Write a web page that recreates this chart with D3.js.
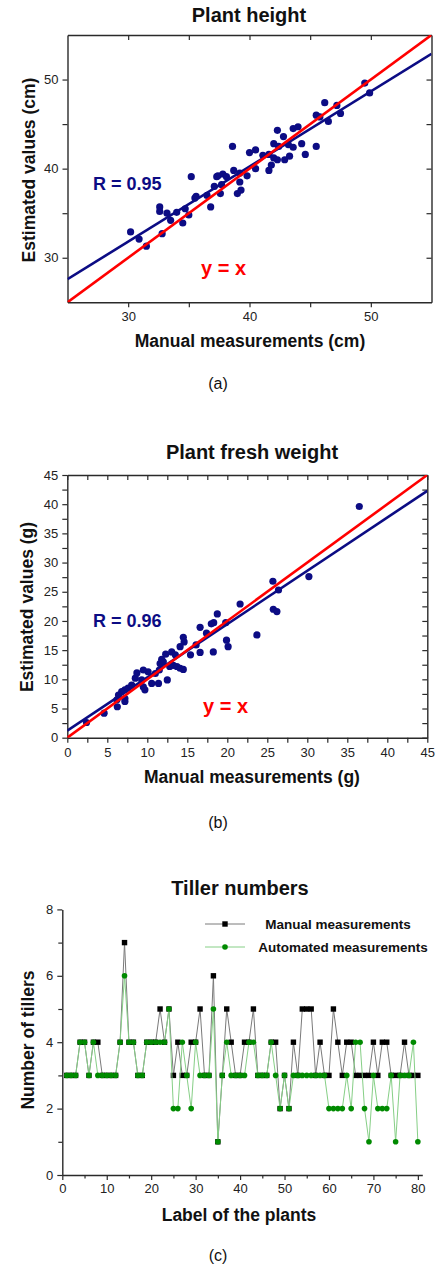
<!DOCTYPE html>
<html><head><meta charset="utf-8">
<script src="https://cdn.jsdelivr.net/npm/d3@7"></script>
<style>
html,body{margin:0;padding:0;background:#fff;}
svg{display:block;}
text{font-family:Arial,"Liberation Sans",sans-serif;}
</style></head>
<body>
<svg id="c" width="437" height="1276"></svg>
<script>
// ---------------- DATA ----------------
// (a) Plant height (cm)
const heightManual = [49.5,49.9,46.2,47.2,47.5,45.5,45.8,46.5,42.3,43.6,44.0,42.8,42.0,42.4,43.2,43.6,44.3,45.5,40.0,40.5,41.1,41.6,42.0,42.3,42.9,43.3,44.6,39.2,39.8,40.5,41.6,41.8,38.6,35.2,37.4,37.8,38.7,39.2,30.2,30.9,31.5,32.6,32.6,33.2,33.5,34.0,34.5,34.7,35.0,35.5,35.6,36.5,36.8,37.1,37.6,37.7,39.0,32.8,39.3,37.3,38.1];
const heightEstimated = [49.6,48.5,47.4,47.1,46.2,46.0,45.8,45.3,44.3,44.5,44.7,43.6,42.8,42.5,42.7,42.4,42.8,42.5,41.8,42.1,41.5,41.6,41.2,41.0,41.0,41.4,41.6,39.5,39.2,40.0,39.8,40.4,42.5,39.1,39.2,39.4,39.8,38.5,32.9,32.1,31.3,35.7,35.2,35.0,34.2,35.1,33.9,35.5,34.8,36.7,36.9,37.0,35.7,38.0,37.2,38.2,37.2,32.7,37.6,39.1,39.1];
const heightFit = [6.52, 0.843];           // intercept, slope
const heightTicks = [30,35,40,45,50];
const heightLabels = [30,40,50];

// (b) Plant fresh weight (g)
const weightManual = [36.5,25.7,26.4,30.2,21.6,25.75,26.2,23.7,18.75,18.3,19.8,16.6,18.0,17.4,14.5,14.6,14.1,16.1,16.6,15.4,18.25,19.9,20.1,13.05,12.3,13.5,12.0,11.6,11.8,13.25,13.7,14.1,14.5,12.8,11.5,11.0,10.1,9.5,10.55,12.5,11.4,9.3,8.5,9.7,9.5,8.05,7.6,7.2,6.8,6.4,7.2,7.2,6.2,6.25,4.6,2.4,8.7];
const weightEstimated = [39.6,26.8,25.3,27.6,22.9,22.0,21.6,17.6,21.2,19.7,19.7,18.9,19.5,17.9,17.2,16.4,15.6,15.9,14.6,14.2,14.7,16.7,15.6,14.7,14.3,14.2,13.0,12.7,13.4,12.4,12.2,11.9,11.7,12.2,11.6,11.0,11.3,11.6,9.3,9.9,9.3,9.9,10.2,8.2,8.7,9.0,8.5,8.2,7.9,7.3,6.7,6.2,6.5,5.3,4.2,2.6,11.1];
const weightFit = [1.2, 0.913];
const weightTicks = d3.range(0, 45.01, 2.5);
const weightLabels = [0,5,10,15,20,25,30,35,40,45];

// (c) Tiller numbers, plants 1..80
const plantLabels = d3.range(1, 81);
const tillerManual = [3,3,3,4,4,3,4,4,3,3, 3,3,4,7,4,4,3,3,4,4, 4,5,4,5,3,4,3,3,4,4, 5,3,3,6,1,3,5,4,3,3, 4,4,5,3,3,3,4,4,2,3, 2,4,3,5,5,5,3,4,3,3, 5,4,3,4,4,3,3,3,3,4, 3,4,4,3,3,3,4,3,3,3];
const tillerAuto   = [3,3,3,4,4,3,4,3,3,3, 3,3,4,6,4,4,3,3,4,4, 4,4,4,5,2,2,4,3,2,4, 3,3,3,5,1,3,4,3,3,3, 3,4,4,3,3,3,4,3,2,3, 2,3,3,3,3,3,3,3,3,2, 2,2,2,3,2,4,4,2,1,3, 2,2,2,3,1,3,3,3,4,1];
const tillerXTicks = [0,10,20,30,40,50,60,70,80];
const tillerYTicks = [0,2,4,6,8];

// ---------------- DRAW ----------------
const svg = d3.select("#c");
const navy = "#0c0c84", red = "#ff0000", axisCol = "#2a2a2a";
const TITLE = 20, ALAB = 17.5, TICK = 13;

function scatterPanel(o){
  const g = svg.append("g");
  const x = d3.scaleLinear().domain(o.xd).range(o.xr);
  const y = d3.scaleLinear().domain(o.yd).range(o.yr);
  const clipId = o.id + "clip";
  g.append("clipPath").attr("id", clipId).append("rect")
    .attr("x", o.xr[0]).attr("y", o.yr[1]).attr("width", o.xr[1]-o.xr[0]).attr("height", o.yr[0]-o.yr[1]);
  const fmt = (lab) => d => lab.includes(d) ? d : "";
  const bx = g.append("g").attr("transform", `translate(0,${o.yr[0]})`)
    .call(d3.axisBottom(x).tickValues(o.ticks).tickFormat(fmt(o.labels)).tickSize(5).tickSizeOuter(0));
  const ly = g.append("g").attr("transform", `translate(${o.xr[0]},0)`)
    .call(d3.axisLeft(y).tickValues(o.ticks).tickFormat(fmt(o.labels)).tickSize(5).tickSizeOuter(0));
  const tx = g.append("g").attr("transform", `translate(0,${o.yr[1]})`)
    .call(d3.axisTop(x).tickValues(o.ticks).tickFormat("").tickSize(-5).tickSizeOuter(0));
  const ry = g.append("g").attr("transform", `translate(${o.xr[1]},0)`)
    .call(d3.axisRight(y).tickValues(o.ticks).tickFormat("").tickSize(-5).tickSizeOuter(0));
  [bx,ly,tx,ry].forEach(a=>{
    a.select(".domain").attr("stroke", axisCol).attr("stroke-width", 1.4);
    a.selectAll(".tick line").attr("stroke", axisCol).attr("stroke-width", 1.2);
    a.selectAll(".tick text").attr("font-size", TICK).attr("fill", "#222").attr("font-family","Arial, 'Liberation Sans', sans-serif");
  });
  bx.selectAll(".tick text").attr("dy", null).attr("y", 19);
  ly.selectAll(".tick text").attr("x", -9);

  const pts = o.mx.map((v,i)=>[v, o.my[i]]);
  const pl = g.append("g").attr("clip-path", `url(#${clipId})`);
  pl.selectAll("circle").data(pts).join("circle")
    .attr("cx", d=>x(d[0])).attr("cy", d=>y(d[1])).attr("r", 3.6).attr("fill", navy);
  const xs = o.xd;
  const fitLine = d3.line().x(d=>x(d[0])).y(d=>y(d[1]));
  pl.append("path").attr("d", fitLine(xs.map(v=>[v, o.fit[0]+o.fit[1]*v])))
    .attr("stroke", navy).attr("stroke-width", 2.6).attr("fill","none");
  pl.append("path").attr("d", fitLine(xs.map(v=>[v, v])))
    .attr("stroke", red).attr("stroke-width", 2.6).attr("fill","none");

  svg.append("text").attr("x", o.titleX).attr("y", o.titleY).attr("text-anchor","middle")
    .attr("font-weight","bold").attr("font-size",TITLE).attr("fill","#111").text(o.title);
  svg.append("text").attr("x", o.xlabX).attr("y", o.xlabY).attr("text-anchor","middle")
    .attr("font-weight","bold").attr("font-size",ALAB).attr("fill","#111").text(o.xlab);
  svg.append("text").attr("transform", `translate(${o.ylabX},${o.ylabY}) rotate(-90)`).attr("text-anchor","middle")
    .attr("font-weight","bold").attr("font-size",ALAB).attr("fill","#111").text(o.ylab);
  svg.append("text").attr("x", o.rX).attr("y", o.rY).attr("font-weight","bold").attr("font-size",18)
    .attr("fill", navy).text(o.rText);
  svg.append("text").attr("x", o.eqX).attr("y", o.eqY).attr("font-weight","bold").attr("font-size",20)
    .attr("fill", red).text("y = x");
  svg.append("text").attr("x", 218).attr("y", o.capY).attr("text-anchor","middle")
    .attr("font-family","'DejaVu Serif','Liberation Serif',serif").attr("font-size",16).attr("fill","#111").text(o.cap);
}

scatterPanel({id:"a", xd:[25,55], yd:[25,55], xr:[67.5,431.5], yr:[302.3,35],
  ticks:heightTicks, labels:heightLabels, mx:heightManual, my:heightEstimated, fit:heightFit,
  title:"Plant height", titleX:249, titleY:22,
  xlab:"Manual measurements (cm)", xlabX:250, xlabY:347,
  ylab:"Estimated values (cm)", ylabX:35, ylabY:170,
  rText:"R = 0.95", rX:93, rY:190, eqX:201, eqY:275, cap:"(a)", capY:389});

scatterPanel({id:"b", xd:[0,45], yd:[0,45], xr:[67.3,427.3], yr:[737.7,475],
  ticks:weightTicks, labels:weightLabels, mx:weightManual, my:weightEstimated, fit:weightFit,
  title:"Plant fresh weight", titleX:252, titleY:459,
  xlab:"Manual measurements (g)", xlabX:252, xlabY:783,
  ylab:"Estimated values (g)", ylabX:33, ylabY:607,
  rText:"R = 0.96", rX:93, rY:627, eqX:203, eqY:713, cap:"(b)", capY:828});

// ---- (c) Tiller numbers ----
(function(){
  const g = svg.append("g");
  const x = d3.scaleLinear().domain([0,81]).range([62.3,422.3]);
  const y = d3.scaleLinear().domain([0,8]).range([1175,909.4]);
  const bx = g.append("g").attr("transform","translate(0,1175)")
    .call(d3.axisBottom(x).tickValues(d3.range(0,81,5)).tickFormat(d=>tillerXTicks.includes(d)?d:"").tickSizeOuter(0));
  bx.selectAll(".tick line").attr("y2", d=> tillerXTicks.includes(d) ? 5 : 3.5);
  const ly = g.append("g").attr("transform","translate(62.3,0)")
    .call(d3.axisLeft(y).tickValues(d3.range(0,9,1)).tickFormat(d=>tillerYTicks.includes(d)?d:"").tickSizeOuter(0));
  ly.selectAll(".tick line").attr("x2", d=> tillerYTicks.includes(d) ? -5 : -4);
  [bx,ly].forEach(a=>{
    a.select(".domain").attr("stroke", axisCol).attr("stroke-width", 1.4);
    a.selectAll(".tick line").attr("stroke", axisCol).attr("stroke-width", 1.2);
    a.selectAll(".tick text").attr("font-size", TICK).attr("fill","#222").attr("font-family","Arial, 'Liberation Sans', sans-serif");
  });
  bx.selectAll(".tick text").attr("dy", null).attr("y", 18);
  ly.selectAll(".tick text").attr("x", -9);

  const line = d3.line().x((d,i)=>x(plantLabels[i])).y(d=>y(d));
  g.append("path").attr("d", line(tillerManual)).attr("stroke","#7a7a7a").attr("stroke-width",1).attr("fill","none");
  g.selectAll("rect.m").data(tillerManual).join("rect").attr("class","m")
    .attr("x",(d,i)=>x(plantLabels[i])-2.7).attr("y",d=>y(d)-2.7).attr("width",5.4).attr("height",5.4).attr("fill","#000");
  g.append("path").attr("d", line(tillerAuto)).attr("stroke","#86cf86").attr("stroke-width",1).attr("fill","none");
  g.selectAll("circle.a").data(tillerAuto).join("circle").attr("class","a")
    .attr("cx",(d,i)=>x(plantLabels[i])).attr("cy",d=>y(d)).attr("r",2.8).attr("fill","#008a00");

  g.append("line").attr("x1",205).attr("x2",245).attr("y1",924).attr("y2",924).attr("stroke","#7a7a7a").attr("stroke-width",1);
  g.append("rect").attr("x",222.3).attr("y",921.3).attr("width",5.4).attr("height",5.4).attr("fill","#000");
  g.append("line").attr("x1",205).attr("x2",245).attr("y1",947).attr("y2",947).attr("stroke","#86cf86").attr("stroke-width",1);
  g.append("circle").attr("cx",225).attr("cy",947).attr("r",2.8).attr("fill","#008a00");
  g.append("text").attr("x",338).attr("y",929).attr("text-anchor","middle").attr("font-weight","bold").attr("font-size",13.5).attr("fill","#111").text("Manual measurements");
  g.append("text").attr("x",343).attr("y",952).attr("text-anchor","middle").attr("font-weight","bold").attr("font-size",13.5).attr("fill","#111").text("Automated measurements");

  svg.append("text").attr("x",240).attr("y",895).attr("text-anchor","middle").attr("font-weight","bold").attr("font-size",TITLE).attr("fill","#111").text("Tiller numbers");
  svg.append("text").attr("x",239).attr("y",1221).attr("text-anchor","middle").attr("font-weight","bold").attr("font-size",ALAB).attr("fill","#111").text("Label of the plants");
  svg.append("text").attr("transform","translate(34,1040) rotate(-90)").attr("text-anchor","middle").attr("font-weight","bold").attr("font-size",ALAB).attr("fill","#111").text("Number of tillers");
  svg.append("text").attr("x",218).attr("y",1261).attr("text-anchor","middle").attr("font-family","'DejaVu Serif','Liberation Serif',serif").attr("font-size",16).attr("fill","#111").text("(c)");
})();
</script>
</body></html>
